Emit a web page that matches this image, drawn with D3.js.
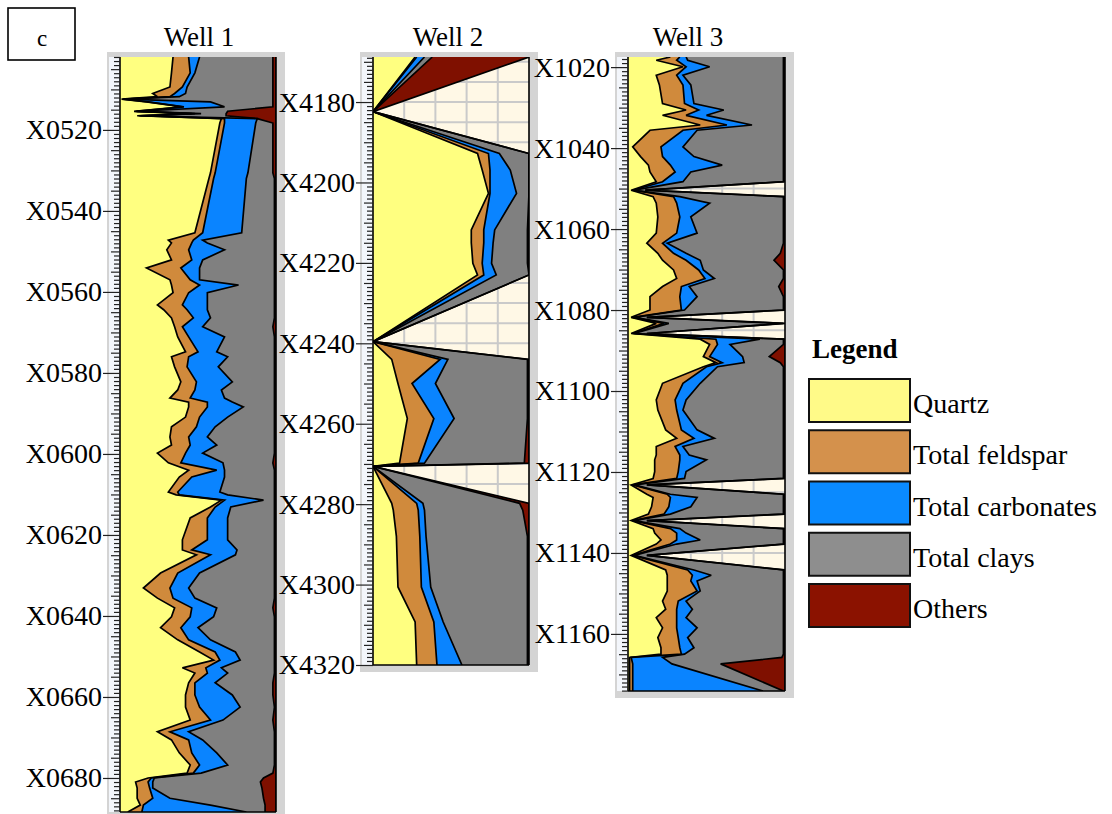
<!DOCTYPE html>
<html>
<head>
<meta charset="utf-8">
<script src="https://cdn.jsdelivr.net/npm/d3@7"></script>
<style>
  html, body { margin: 0; padding: 0; background: #ffffff; }
  svg { display: block; }
  text { font-family: "Liberation Serif", "Times New Roman", serif; fill: #000; }
</style>
</head>
<body>
<svg id="chart" width="1112" height="814"></svg>
<script>
// Mineral groups, stacked left to right (percent of rock volume)
const minerals = ["Quartz", "Total feldspar", "Total carbonates", "Total clays", "Others"];
const mineralColors = ["#FFFF80", "#D08A3C", "#0A84FF", "#808080", "#7F1000"];
const legendColors = ["#FFFA88", "#D4914C", "#0A8AFF", "#8E8E8E", "#8B1200"];

// ---- Well 1 ----
const well1Depth = [502.0, 505.9, 509.4, 511.0, 511.8, 512.4, 513.1, 514.3, 515.4, 516.0, 516.5, 517.2, 518.3,
  530.6, 532.0, 545.4, 547.2, 547.9, 549.6, 552.1, 554.1, 557.0, 558.3, 560.2, 563.2, 564.4, 566.4, 568.6,
  571.1, 574.8, 576.0, 578.5, 582.2, 584.2, 586.2, 587.2, 588.4, 590.9, 593.3, 595.8, 597.8, 599.8, 602.2,
  604.0, 605.7, 609.4, 610.1, 611.4, 613.1, 615.8, 621.2, 623.7, 624.9, 629.4, 633.1, 635.6, 638.0, 640.2,
  642.9, 645.9, 648.9, 650.9, 652.8, 654.1, 656.5, 659.5, 662.5, 665.7, 668.6, 670.6, 673.8, 676.8, 678.8,
  680.0, 681.0, 682.5, 685.0, 686.7, 688.4];
const well1Quartz = [34, 33, 32, 21, 24, 1, 17, 40, 9, 46, 11, 65, 64,
  58, 57, 48, 31, 33, 30, 33, 17, 32, 33, 34, 24, 28, 33, 35,
  37, 42, 33, 35, 39, 37, 32, 44, 44, 42, 33, 32, 33, 24, 31,
  44, 38, 31, 36, 65, 58, 45, 40, 40, 49, 26, 15, 24, 35, 33,
  26, 37, 51, 60, 40, 48, 44, 42, 42, 45, 24, 33, 38, 45, 43,
  18, 10, 11, 11, 13, 5];
const well1Feldspar = [10, 12, 8, 14, 8, 1, 1, 1, 1, 2, 1, 2, 3,
  3, 3, 5, 16, 13, 14, 13, 22, 13, 18, 10, 16, 15, 14, 5,
  7, 8, 11, 8, 10, 11, 13, 12, 12, 9, 16, 12, 12, 18, 8,
  18, 8, 6, 2, 2, 3, 11, 16, 6, 9, 11, 17, 10, 11, 12,
  13, 7, 10, 4, 15, 8, 4, 6, 9, 13, 8, 11, 8, 6, 4,
  2, 8, 8, 10, 2, 9];
const well1Carbonates = [7, 3, 3, 7, 6, 1, 40, 26, 1, 4, 1, 21, 20,
  21, 21, 25, 6, 10, 23, 7, 12, 6, 25, 12, 16, 13, 11, 13,
  23, 12, 25, 20, 23, 17, 22, 16, 23, 18, 12, 12, 17, 11, 27,
  5, 21, 27, 31, 25, 10, 13, 13, 29, 16, 14, 12, 14, 16, 15,
  11, 14, 13, 13, 10, 13, 13, 24, 26, 8, 12, 9, 16, 18, 5,
  2, 3, 2, 11, 43, 67];
const well1Clays = [47, 50, 55, 56, 60, 95, 40, 31, 58, 16, 55, 0, 11,
  16, 18, 21, 46, 43, 32, 46, 48, 48, 23, 43, 43, 43, 41, 45,
  32, 37, 30, 36, 27, 34, 32, 27, 20, 30, 38, 43, 37, 46, 32,
  32, 32, 35, 30, 7, 28, 30, 30, 24, 25, 48, 55, 51, 36, 39,
  49, 41, 25, 22, 34, 30, 37, 26, 22, 32, 55, 46, 37, 30, 46,
  70, 69, 70, 60, 35, 12];
const well1Others = [2, 2, 2, 2, 2, 2, 2, 2, 31, 32, 32, 12, 2,
  2, 1, 1, 1, 1, 1, 1, 1, 1, 1, 1, 1, 1, 1, 2,
  1, 1, 1, 1, 1, 1, 1, 1, 1, 1, 1, 1, 1, 1, 2,
  1, 1, 1, 1, 1, 1, 1, 1, 1, 1, 1, 1, 1, 2, 1,
  1, 1, 1, 1, 1, 1, 2, 2, 1, 2, 1, 1, 1, 1, 2,
  8, 10, 9, 8, 7, 7];
const well1TickDepths = [520, 540, 560, 580, 600, 620, 640, 660, 680];
const well1TickLabels = ["X0520", "X0540", "X0560", "X0580", "X0600", "X0620", "X0640", "X0660", "X0680"];

// ---- Well 2 ----
const well2Depth = [4168.8, 4182.4, 4192.8, 4196.9, 4202.7, 4211.8, 4215.0, 4220.1, 4223.0, 4239.6,
  4244.0, 4250.0, 4258.7, 4269.8, 4270.6, 4279.8, 4281.5, 4288.0, 4300.6, 4309.3, 4320.0];
const well2Quartz     = [27, 0, 67, 70, 74, 63, 63, 64, 67, 0, 12, 16, 22, 17, 0, 12, 13, 15, 16, 27, 28];
const well2Feldspar   = [1, 0, 7, 5, 1, 8, 8, 6, 4, 0, 31, 9, 17, 12, 0, 16, 16, 15, 15, 12, 13];
const well2Carbonates = [5, 0, 7, 13, 17, 7, 6, 6, 8, 0, 5, 15, 13, 4, 0, 4, 4, 4, 6, 6, 16];
const well2Clays      = [5, 0, 19, 12, 8, 21, 22, 23, 21, 0, 51, 59, 47, 64, 0, 62, 63, 65, 62, 54, 42];
const well2Others     = [62, 0, 0, 0, 0, 1, 1, 1, 0, 0, 1, 1, 1, 3, 0, 6, 4, 1, 1, 1, 1];
const well2TickDepths = [4180, 4200, 4220, 4240, 4260, 4280, 4300, 4320];
const well2TickLabels = ["X4180", "X4200", "X4220", "X4240", "X4260", "X4280", "X4300", "X4320"];

// ---- Well 3 ----
const well3Depth = [1017.5, 1018.3, 1019.9, 1022.0, 1024.4, 1029.0, 1030.6, 1031.9, 1034.3, 1035.6,
  1039.7, 1042.1, 1044.2, 1045.9, 1048.3, 1050.4, 1052.0, 1053.6, 1057.0, 1061.0,
  1063.5, 1066.0, 1067.7, 1070.1, 1072.2, 1074.2, 1076.7, 1080.0, 1081.8, 1083.3,
  1085.8, 1087.2, 1088.5, 1091.5, 1093.0, 1094.0, 1098.1, 1102.2, 1104.7, 1109.6,
  1111.7, 1113.7, 1115.8, 1117.0, 1119.9, 1121.6, 1123.2, 1125.5, 1126.3, 1128.6,
  1130.4, 1132.0, 1134.0, 1135.1, 1136.8, 1137.8, 1140.6, 1144.2, 1145.5, 1146.9,
  1149.4, 1151.9, 1153.9, 1156.0, 1158.5, 1160.9, 1163.4, 1165.0, 1165.8, 1167.4, 1174.1];
const well3Quartz = [27, 18, 35, 18, 20, 22, 37, 22, 46, 14,
  3, 8, 13, 14, 18, 2, 16, 18, 19, 18,
  12, 19, 22, 29, 31, 22, 14, 14, 2, 18,
  2, 46, 52, 48, 56, 48, 22, 18, 19, 24,
  31, 18, 18, 17, 17, 16, 2, 12, 16, 15,
  13, 2, 16, 17, 21, 18, 2, 24, 25, 25,
  25, 22, 24, 18, 22, 19, 21, 21, 1, 1, 1];
const well3Feldspar = [6, 13, 2, 13, 15, 14, 8, 15, 17, 21,
  18, 14, 14, 16, 4, 1, 13, 13, 14, 13,
  10, 10, 15, 16, 18, 12, 19, 20, 1, 5,
  1, 10, 5, 4, 4, 2, 13, 12, 12, 10,
  11, 12, 15, 16, 15, 15, 1, 13, 11, 11,
  10, 1, 11, 14, 10, 9, 1, 14, 16, 15,
  19, 10, 7, 13, 9, 13, 12, 13, 1, 2, 2];
const well3Carbonates = [4, 7, 15, 4, 5, 6, 16, 13, 16, 9,
  14, 20, 33, 10, 13, 1, 4, 21, 7, 13,
  3, 8, 9, 3, 6, 5, 11, 2, 1, 3,
  1, 28, 8, 21, 14, 7, 11, 7, 4, 10,
  13, 5, 6, 17, 5, 5, 1, 2, 17, 14,
  4, 1, 6, 6, 15, 4, 1, 4, 12, 4,
  2, 5, 10, 6, 13, 6, 9, 2, 20, 25, 83];
const well3Clays = [62, 61, 47, 64, 59, 57, 38, 49, 20, 55,
  64, 57, 39, 59, 64, 7, 66, 47, 59, 55,
  74, 60, 47, 51, 44, 57, 55, 63, 8, 73,
  8, 15, 34, 17, 23, 42, 53, 62, 64, 55,
  44, 64, 60, 49, 62, 63, 8, 72, 55, 59,
  72, 8, 66, 62, 53, 68, 8, 57, 46, 55,
  53, 62, 58, 62, 55, 61, 57, 63, 76, 31, 13];
const well3Others = [1, 1, 1, 1, 1, 1, 1, 1, 1, 1,
  1, 1, 1, 1, 1, 0, 1, 1, 1, 1,
  1, 3, 7, 1, 1, 4, 1, 1, 0, 1,
  0, 1, 1, 10, 3, 1, 1, 1, 1, 1,
  1, 1, 1, 1, 1, 1, 0, 1, 1, 1,
  1, 0, 1, 1, 1, 1, 0, 1, 1, 1,
  1, 1, 1, 1, 1, 1, 1, 1, 2, 41, 1];
const well3TickDepths = [1020, 1040, 1060, 1080, 1100, 1120, 1140, 1160];
const well3TickLabels = ["X1020", "X1040", "X1060", "X1080", "X1100", "X1120", "X1140", "X1160"];

// Track geometry for each well
const wells = [
  { name: "Well 1", depth: well1Depth,
    series: [well1Quartz, well1Feldspar, well1Carbonates, well1Clays, well1Others],
    ticks: well1TickDepths, labels: well1TickLabels,
    domain: [502.0, 688.4], left: 120, right: 276, top: 57, bottom: 812, titleX: 199 },
  { name: "Well 2", depth: well2Depth,
    series: [well2Quartz, well2Feldspar, well2Carbonates, well2Clays, well2Others],
    ticks: well2TickDepths, labels: well2TickLabels,
    domain: [4168.8, 4320.0], left: 373, right: 529, top: 57, bottom: 665, titleX: 448 },
  { name: "Well 3", depth: well3Depth,
    series: [well3Quartz, well3Feldspar, well3Carbonates, well3Clays, well3Others],
    ticks: well3TickDepths, labels: well3TickLabels,
    domain: [1017.5, 1174.1], left: 628, right: 785, top: 57, bottom: 691, titleX: 688 }
];

const svg = d3.select("#chart");
const defs = svg.append("defs");

wells.forEach((w, wi) => {
  const g = svg.append("g");
  const y = d3.scaleLinear().domain(w.domain).range([w.top, w.bottom]);
  const x = d3.scaleLinear().domain([0, 100]).range([w.left, w.right]);

  // panel frame
  g.append("rect")
    .attr("x", w.left - 13).attr("y", w.top - 5)
    .attr("width", w.right - w.left + 22).attr("height", w.bottom - w.top + 12)
    .attr("fill", "#D4D4D4");
  // depth ruler strip
  g.append("rect")
    .attr("x", w.left - 11).attr("y", w.top)
    .attr("width", 11).attr("height", w.bottom - w.top)
    .attr("fill", "#F3F6FB");
  // track background
  g.append("rect")
    .attr("x", w.left).attr("y", w.top)
    .attr("width", w.right - w.left).attr("height", w.bottom - w.top)
    .attr("fill", "#FFF8E6");

  const clipId = "clip" + wi;
  defs.append("clipPath").attr("id", clipId)
    .append("rect")
    .attr("x", w.left).attr("y", w.top)
    .attr("width", w.right - w.left).attr("height", w.bottom - w.top);

  const track = g.append("g").attr("clip-path", `url(#${clipId})`);

  // grid
  const gridDepths = d3.range(Math.ceil(w.domain[0] / 5) * 5, w.domain[1], 5);
  track.selectAll("line.hgrid").data(gridDepths).join("line")
    .attr("x1", w.left).attr("x2", w.right)
    .attr("y1", d => y(d)).attr("y2", d => y(d))
    .attr("stroke", "#CACACA").attr("stroke-width", 2);
  track.selectAll("line.vgrid").data([20, 40, 60, 80]).join("line")
    .attr("x1", d => x(d)).attr("x2", d => x(d))
    .attr("y1", w.top).attr("y2", w.bottom)
    .attr("stroke", "#CACACA").attr("stroke-width", 2);

  // stacked composition
  const rows = w.depth.map((d, i) => {
    const r = { depth: d };
    minerals.forEach((m, k) => { r[m] = w.series[k][i]; });
    return r;
  });
  const stacked = d3.stack().keys(minerals)(rows);

  const area = d3.area()
    .y(p => y(p.data.depth))
    .x0(p => x(p[0]))
    .x1(p => x(p[1]));
  const edge = d3.line()
    .x(p => x(p[1]))
    .y(p => y(p.data.depth));

  track.selectAll("path.layer").data(stacked).join("path")
    .attr("d", area)
    .attr("fill", (s, k) => mineralColors[k]);
  track.selectAll("path.edge").data(stacked).join("path")
    .attr("d", edge)
    .attr("fill", "none")
    .attr("stroke", "#000")
    .attr("stroke-width", 1.7)
    .attr("stroke-linejoin", "miter")
    .attr("stroke-miterlimit", 3);

  // track borders
  g.append("line").attr("x1", w.left).attr("x2", w.left)
    .attr("y1", w.top).attr("y2", w.bottom).attr("stroke", "#000").attr("stroke-width", 1.6);
  g.append("line").attr("x1", w.right).attr("x2", w.right)
    .attr("y1", w.top).attr("y2", w.bottom).attr("stroke", "#000").attr("stroke-width", 1.6);
  g.append("line").attr("x1", w.left).attr("x2", w.right)
    .attr("y1", w.bottom).attr("y2", w.bottom).attr("stroke", "#000").attr("stroke-width", 1.6);

  // depth ruler ticks
  const minor = d3.range(Math.ceil(w.domain[0]), w.domain[1], 1).filter(d => d % 5 !== 0);
  const mid = d3.range(Math.ceil(w.domain[0] / 5) * 5, w.domain[1], 5).filter(d => d % 20 !== 0);
  const styleTicks = sel => {
    sel.select(".domain").remove();
    sel.selectAll(".tick line").attr("stroke", "#222").attr("stroke-width", 1.2);
  };
  g.append("g").attr("transform", `translate(${w.left},0)`)
    .call(d3.axisLeft(y).tickValues(minor).tickSize(6).tickFormat(""))
    .call(styleTicks);
  g.append("g").attr("transform", `translate(${w.left},0)`)
    .call(d3.axisLeft(y).tickValues(mid).tickSize(9).tickFormat(""))
    .call(styleTicks);
  const major = g.append("g").attr("transform", `translate(${w.left},0)`)
    .call(d3.axisLeft(y).tickValues(w.ticks).tickSize(17).tickPadding(1)
      .tickFormat((d, i) => w.labels[i]))
    .call(styleTicks);
  major.selectAll(".tick text")
    .attr("font-family", '"Liberation Serif", "Times New Roman", serif')
    .attr("font-size", 28)
    .attr("fill", "#000");

  // title
  svg.append("text")
    .attr("x", w.titleX).attr("y", 46)
    .attr("text-anchor", "middle")
    .attr("font-size", 27)
    .text(w.name);
});

// panel letter
svg.append("rect").attr("x", 8).attr("y", 8).attr("width", 67).attr("height", 52)
  .attr("fill", "#fff").attr("stroke", "#000").attr("stroke-width", 1.6);
svg.append("text").attr("x", 42).attr("y", 46).attr("text-anchor", "middle")
  .attr("font-size", 23).text("c");

// legend
const legend = svg.append("g").attr("transform", "translate(808,0)");
legend.append("text").attr("x", 4).attr("y", 358)
  .attr("font-size", 27).attr("font-weight", "bold").text("Legend");
const legendY = d3.scalePoint().domain(minerals).range([379, 584]);
const item = legend.selectAll("g.item").data(minerals).join("g")
  .attr("transform", m => `translate(0,${legendY(m)})`);
item.append("rect")
  .attr("x", 1).attr("y", 0).attr("width", 101).attr("height", 43)
  .attr("fill", (m, i) => legendColors[i])
  .attr("stroke", "#111").attr("stroke-width", 2);
item.append("text")
  .attr("x", 105).attr("y", 34)
  .attr("font-size", 28)
  .text(m => m);
</script>
</body>
</html>
